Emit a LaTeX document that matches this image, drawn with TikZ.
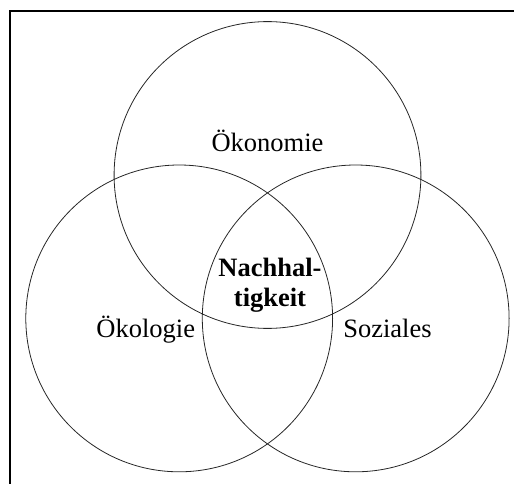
\documentclass[tikz,border=0pt]{standalone}
\usepackage{fontspec}
\setmainfont{Liberation Serif}
\begin{document}
\begin{tikzpicture}[x=1pt, y=-1pt, line width=0.8pt]
  \useasboundingbox (0,0) rectangle (514,484);
  \draw[line width=2pt] (9.5,484) -- (9.5,11.5) -- (514,11.5);
  \draw[black!85] (267.5,175.0) circle (153.4pt);
  \draw[black!85] (179.2,318.4) circle (153.4pt);
  \draw[black!85] (355.7,318.4) circle (153.4pt);
  \node[font=\fontsize{26.5}{30}\selectfont, inner sep=0pt, anchor=base] (oekonomie) at (267.5,151.7) {Ökonomie};
  \node[font=\fontsize{26.5}{30}\selectfont, inner sep=0pt, anchor=base] (oekologie) at (145.8,337.3) {Ökologie};
  \node[font=\fontsize{26.5}{30}\selectfont, inner sep=0pt, anchor=base] (soziales) at (387.5,337.3) {Soziales};
  \node[font=\fontsize{26.5}{30}\selectfont\bfseries, inner sep=0pt, align=center] (nachhaltigkeit) at (270.0,285.5) {Nachhal-\\tigkeit};
\end{tikzpicture}
\end{document}
